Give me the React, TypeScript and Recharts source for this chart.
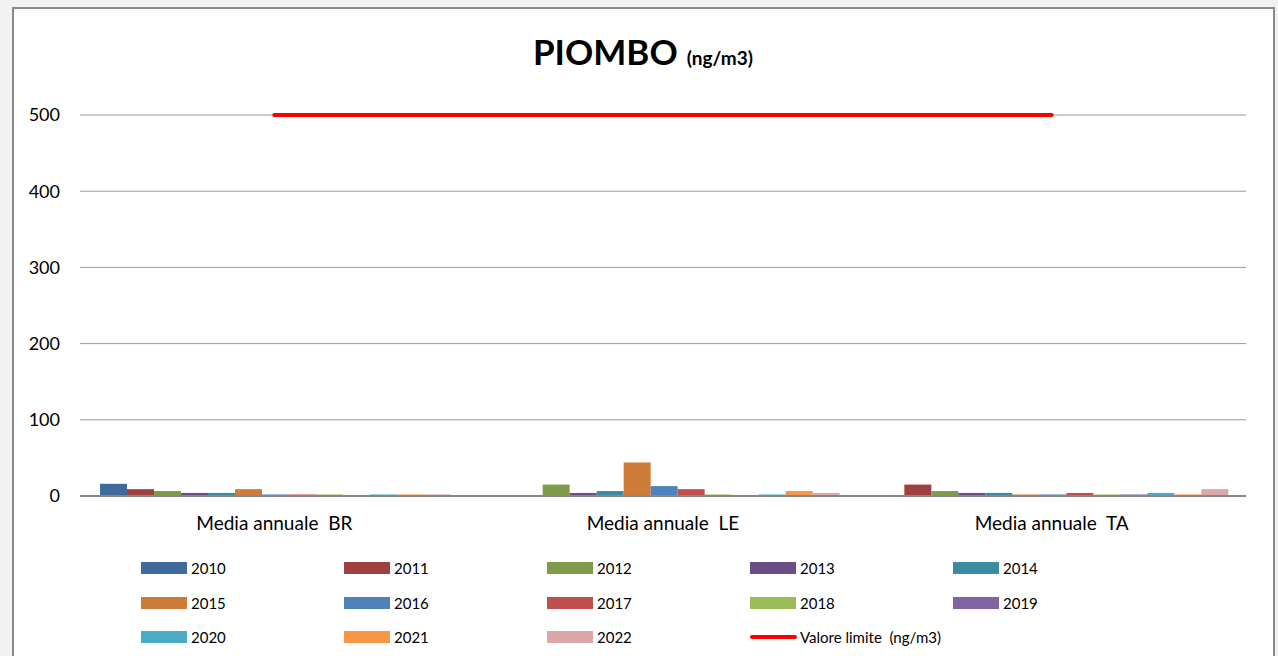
import React from 'react';
import { ComposedChart, Bar, Line, XAxis, YAxis, CartesianGrid, Legend } from 'recharts';

const CATEGORIES = ['Media annuale \u00A0BR', 'Media annuale \u00A0LE', 'Media annuale \u00A0TA'];
const YEARS = ['2010', '2011', '2012', '2013', '2014', '2015', '2016', '2017', '2018', '2019', '2020', '2021', '2022'];
const COLORS = ['#3F6A9B', '#9E413E', '#7F9A48', '#6A4F86', '#3A8CA1', '#CC7B38', '#4F81BD', '#C0504D', '#9BBB59', '#8064A2', '#4BACC6', '#F79646', '#DAA8A8'];
const BR = [16, 9, 6.5, 4, 4, 9, 2, 2, 2, null, 2, 2, 2];
const LE = [null, null, 15, 4, 6.5, 44, 13, 9, 2, null, 2, 6.5, 4];
const TA = [null, 15, 6.5, 4, 4, 2, 2, 4, 2, 2, 4, 2, 9];
const LIMIT = [500, 500, 500];
const LIMIT_NAME = 'Valore limite  (ng/m3)';
const Y_TICKS = [0, 100, 200, 300, 400, 500];

const SERIES = [BR, LE, TA];
const data = CATEGORIES.map((cat, i) => {
  const row: Record<string, any> = { name: cat, limit: LIMIT[i] };
  YEARS.forEach((y, j) => {
    row[y] = SERIES[i][j];
  });
  return row;
});

const FONT = 'Lato, "DejaVu Sans", sans-serif';

const LegendContent = (props: any) => {
  const payload = props.payload || [];
  return (
    <div style={{ display: 'grid', gridTemplateColumns: 'repeat(5, 203px)', rowGap: 0, height: 104, fontFamily: FONT, fontSize: 15, color: '#000' }}>
      {payload.map((p: any) => (
        <div key={p.value} style={{ display: 'flex', alignItems: 'center', height: 34 }}>
          {p.type === 'line' ? (
            <div style={{ width: 47, height: 4, borderRadius: 2, background: p.color, marginRight: 3 }} />
          ) : (
            <div style={{ width: 46, height: 12, background: p.color, marginRight: 4 }} />
          )}
          <span style={{ whiteSpace: 'pre' }}>{p.value}</span>
        </div>
      ))}
    </div>
  );
};

export default function App() {
  return (
    <div style={{ position: 'fixed', left: 0, top: 0, width: 1278, height: 656, background: '#f2f2f2', overflow: 'hidden' }}>
      <div style={{ position: 'absolute', left: 12, top: 7, width: 1259, height: 700, background: '#fff', border: '2px solid #8a8a8a' }} />
      <div style={{ position: 'absolute', left: 0, top: 30, width: 1286, textAlign: 'center', fontFamily: FONT, fontWeight: 700, color: '#000', whiteSpace: 'pre' }}>
        <span style={{ fontSize: 35 }}>PIOMBO</span>
        <span style={{ fontSize: 19, marginLeft: 9 }}>(ng/m3)</span>
      </div>
      <div style={{ position: 'absolute', left: 0, top: 0 }}>
        <ComposedChart
          width={1278}
          height={656}
          data={data}
          margin={{ top: 115, right: 32, left: 0, bottom: 16 }}
          barGap={0}
          barCategoryGap={20}
        >
          <CartesianGrid vertical={false} stroke="#9a9a9a" strokeWidth={1} />
          <XAxis
            dataKey="name"
            axisLine={{ stroke: '#888', strokeWidth: 2 }}
            tickLine={false}
            tickMargin={15}
            height={40}
            tick={{ fontFamily: FONT, fontSize: 19, fill: '#000' }}
            interval={0}
          />
          <YAxis
            domain={[0, 500]}
            ticks={Y_TICKS}
            width={80}
            axisLine={false}
            tickLine={false}
            tickMargin={14}
            tick={{ fontFamily: FONT, fontSize: 18, fill: '#000' }}
          />
          {YEARS.map((y, j) => (
            <Bar key={y} dataKey={y} name={y} fill={COLORS[j]} isAnimationActive={false} />
          ))}
          <Line
            type="linear"
            dataKey="limit"
            name={LIMIT_NAME}
            stroke="#ff0000"
            strokeWidth={4}
            strokeLinecap="round"
            dot={false}
            activeDot={false}
            legendType="line"
            isAnimationActive={false}
          />
          <Legend
            verticalAlign="bottom"
            content={<LegendContent />}
            wrapperStyle={{ position: 'absolute', left: 141, top: 551, width: 1100, height: 104 }}
          />
        </ComposedChart>
      </div>
    </div>
  );
}
